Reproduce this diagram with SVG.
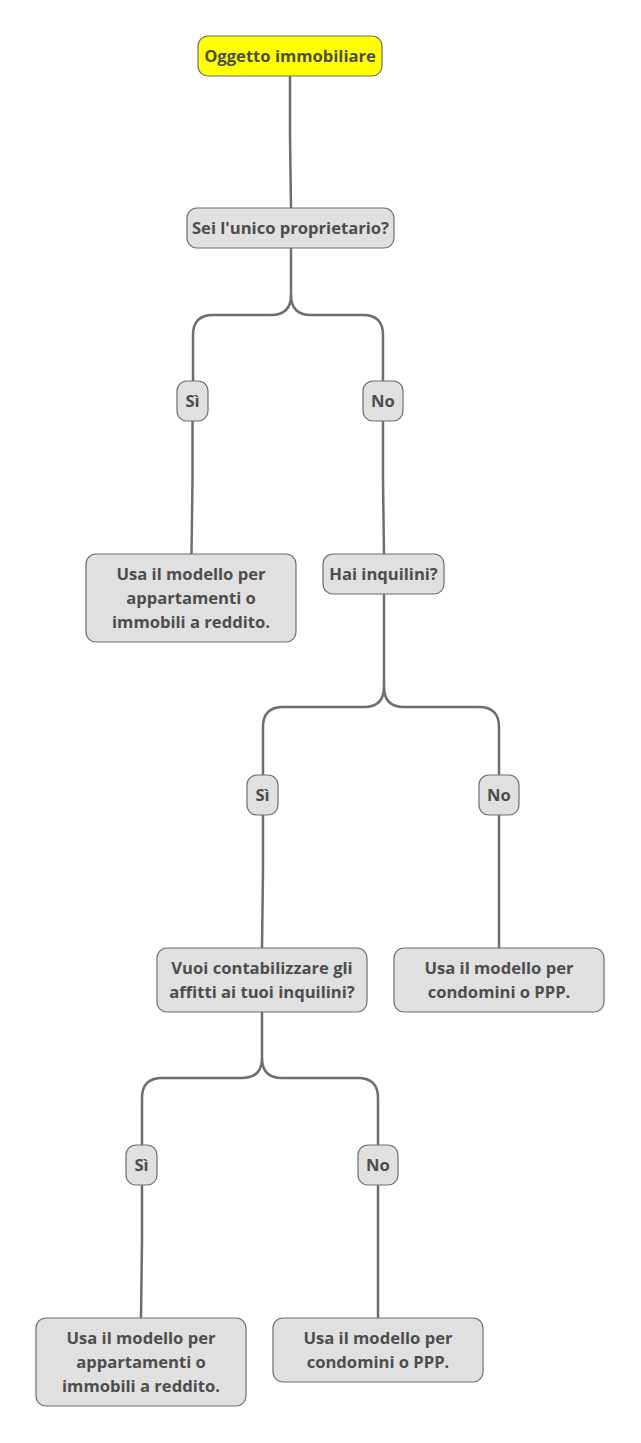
<svg xmlns="http://www.w3.org/2000/svg" width="641" height="1443" viewBox="0 0 641 1443">
<style>
.n rect{fill:#e0e0e0;stroke:#6e6e6e;stroke-width:1.2}
.n text{font-family:"Open Sans","Noto Sans",sans-serif;font-weight:bold;font-size:16.6px;fill:#4d4d4d;text-anchor:middle}
#root rect{fill:#ffff00}
#edges path{fill:none;stroke:#6e6e6e;stroke-width:2.5}
</style>
<rect width="641" height="1443" fill="#ffffff"/>
<g id="edges">
<path d="M290,76 L290,135 L291,208"/>
<path d="M291,248 L291,295 Q291,315 271,315 L213,315 Q193,315 193,335 L193,381"/>
<path d="M291,295 Q291,315 311,315 L363,315 Q383,315 383,335 L383,381"/>
<path d="M192.5,421 L192.5,480 L191.5,554"/>
<path d="M383,421 L383,480 L384,554"/>
<path d="M384,594 L384,687 Q384,707 364,707 L283,707 Q263,707 263,727 L263,775"/>
<path d="M384,687 Q384,707 404,707 L479,707 Q499,707 499,727 L499,775"/>
<path d="M263,815 L263,870 L262,948"/>
<path d="M499,815 L499,948"/>
<path d="M262,1012 L262,1058 Q262,1078 242,1078 L162,1078 Q142,1078 142,1098 L142,1145"/>
<path d="M262,1058 Q262,1078 282,1078 L358,1078 Q378,1078 378,1098 L378,1145"/>
<path d="M142,1185 L142,1240 L141,1318"/>
<path d="M378,1185 L378,1318"/>
</g>
<g id="root" class="n"><rect x="198" y="36" width="184" height="40" rx="10"/><text x="290" y="62">Oggetto immobiliare</text></g>
<g id="q1" class="n"><rect x="187" y="208" width="207" height="40" rx="10"/><text x="290.5" y="234">Sei l'unico proprietario?</text></g>
<g id="si1" class="n"><rect x="177" y="381" width="31" height="40" rx="10"/><text x="192.5" y="407">Sì</text></g>
<g id="no1" class="n"><rect x="363" y="381" width="40" height="40" rx="10"/><text x="383" y="407">No</text></g>
<g id="r1" class="n"><rect x="86" y="554" width="210" height="88" rx="10"/><text x="191" y="580">Usa il modello per</text><text x="191" y="604">appartamenti o</text><text x="191" y="628">immobili a reddito.</text></g>
<g id="q2" class="n"><rect x="323" y="554" width="121" height="40" rx="10"/><text x="383.5" y="580">Hai inquilini?</text></g>
<g id="si2" class="n"><rect x="247" y="775" width="31" height="40" rx="10"/><text x="262.5" y="801">Sì</text></g>
<g id="no2" class="n"><rect x="479" y="775" width="40" height="40" rx="10"/><text x="499" y="801">No</text></g>
<g id="q3" class="n"><rect x="157" y="948" width="210" height="64" rx="10"/><text x="262" y="974">Vuoi contabilizzare gli</text><text x="262" y="998">affitti ai tuoi inquilini?</text></g>
<g id="r2" class="n"><rect x="394" y="948" width="210" height="64" rx="10"/><text x="499" y="974">Usa il modello per</text><text x="499" y="998">condomini o PPP.</text></g>
<g id="si3" class="n"><rect x="126" y="1145" width="31" height="40" rx="10"/><text x="141.5" y="1171">Sì</text></g>
<g id="no3" class="n"><rect x="358" y="1145" width="40" height="40" rx="10"/><text x="378" y="1171">No</text></g>
<g id="r3" class="n"><rect x="36" y="1318" width="210" height="88" rx="10"/><text x="141" y="1344">Usa il modello per</text><text x="141" y="1368">appartamenti o</text><text x="141" y="1392">immobili a reddito.</text></g>
<g id="r4" class="n"><rect x="273" y="1318" width="210" height="64" rx="10"/><text x="378" y="1344">Usa il modello per</text><text x="378" y="1368">condomini o PPP.</text></g>
</svg>
